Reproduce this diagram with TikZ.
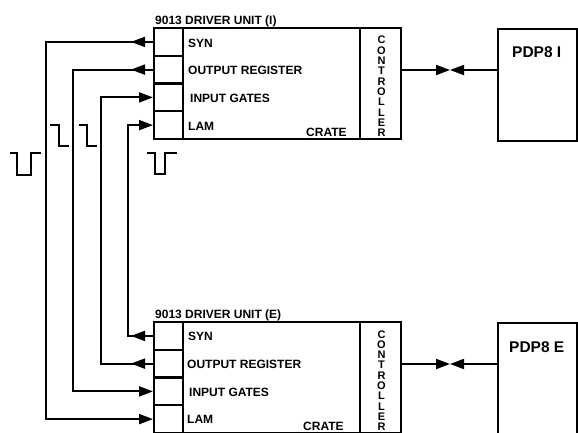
\documentclass[tikz,border=0pt]{standalone}
\usepackage{fontspec}
\setmainfont{Liberation Sans}
\usetikzlibrary{arrows.meta,decorations.markings}
\tikzset{
  ln/.style={line width=2pt, line join=miter},
  box/.style={draw, line width=2pt, inner sep=0pt, rectangle},
  slot/.style={box, minimum width=29pt, minimum height=27.75pt},
  lbl/.style={anchor=base west, inner sep=0pt, font=\bfseries\fontsize{12}{14}\selectfont},
  pdplbl/.style={anchor=base west, inner sep=0pt, font=\bfseries\fontsize{15.5}{18}\selectfont},
  ctrl/.style={inner sep=0pt, align=center, font=\bfseries\fontsize{11}{10.3}\selectfont},
  tip/.style={-{Triangle[length=14pt,width=10pt]}},
  outmark/.style={postaction={decorate, decoration={markings,
     mark=at position 22pt with {\arrow{Triangle[length=14pt,width=10pt]}}}}},
}
\begin{document}
\begin{tikzpicture}[x=1pt,y=-1pt]
\useasboundingbox (0,0) rectangle (578,432);
\clip (0,0) rectangle (578,432);
% ---- crate I ----
\node[box, minimum width=247pt, minimum height=111pt] (crateI) at (277.5,83.5) {};
\node[box, minimum width=41pt, minimum height=111pt] (ctrlI) at (380.5,83.5) {};
\node[slot] (synI) at (168.5,41.9) {};
\node[slot] (orI)  at (168.5,69.6) {};
\node[slot] (igI)  at (168.5,97.4) {};
\node[slot] (lamI) at (168.5,125.1) {};
\node[lbl] (tI) at (155,24.5) {9013 DRIVER UNIT (I)};
\node[lbl] (tsynI) at (188,47.5) {SYN};
\node[lbl] (torI) at (188,74) {OUTPUT REGISTER};
\node[lbl] (tigI) at (190,102.5) {INPUT GATES};
\node[lbl] (tlamI) at (188,130.5) {LAM};
\node[lbl] (tcrI) at (306,136) {CRATE};
\node[ctrl] (cI) at (381.5,86.5) {C\\O\\N\\T\\R\\O\\L\\L\\E\\R};
% ---- crate E ----
\node[box, minimum width=247pt, minimum height=111pt] (crateE) at (277.5,377.5) {};
\node[box, minimum width=41pt, minimum height=111pt] (ctrlE) at (380.5,377.5) {};
\node[slot] (synE) at (168.5,335.9) {};
\node[slot] (orE)  at (168.5,363.6) {};
\node[slot] (igE)  at (168.5,391.4) {};
\node[slot] (lamE) at (168.5,419.1) {};
\node[lbl] (tE) at (155,318) {9013 DRIVER UNIT (E)};
\node[lbl] (tsynE) at (188,340.5) {SYN};
\node[lbl] (torE) at (187,368) {OUTPUT REGISTER};
\node[lbl] (tigE) at (189,396) {INPUT GATES};
\node[lbl] (tlamE) at (187,423.5) {LAM};
\node[lbl] (tcrE) at (303,430) {CRATE};
\node[ctrl] (cE) at (381.5,380.5) {C\\O\\N\\T\\R\\O\\L\\L\\E\\R};
% ---- PDP boxes ----
\node[box, minimum width=79pt, minimum height=112pt] (pdpI) at (537.5,85) {};
\node[pdplbl] (tpI) at (512,57.5) {PDP8 I};
\node[box, minimum width=79pt, minimum height=112pt] (pdpE) at (537.5,379) {};
\node[pdplbl] (tpE) at (509,352) {PDP8 E};
% ---- bowties ----
\coordinate (bowI) at (450,70);
\coordinate (bowE) at (450,364);
\draw[ln, tip] (ctrlI.east |- bowI) -- (bowI);
\draw[ln, tip] (pdpI.west |- bowI) -- (bowI);
\draw[ln, tip] (ctrlE.east |- bowE) -- (bowE);
\draw[ln, tip] (pdpE.west |- bowE) -- (bowE);
% ---- bus lines ----
\coordinate (vA) at (45.5,0);
\coordinate (vB) at (73.3,0);
\coordinate (vC) at (100.7,0);
\coordinate (vD) at (127.7,0);
\draw[ln, tip, outmark] (synI.west) -- (synI.west -| vA) -- (lamE.west -| vA) -- (lamE.west);
\draw[ln, tip, outmark] (orI.west) -- (orI.west -| vB) -- (igE.west -| vB) -- (igE.west);
\draw[ln, tip, outmark] (orE.west) -- (orE.west -| vC) -- (igI.west -| vC) -- (igI.west);
\draw[ln, tip, outmark] (synE.west) -- (synE.west -| vD) -- (lamI.west -| vD) -- (lamI.west);
% ---- pulses ----
\draw[ln] (10,153) -- (17,153) -- (17,175) -- (31,175) -- (31,153) -- (41,153);
\draw[ln] (50,125) -- (59,125) -- (59,146) -- (69,146);
\draw[ln] (79,125) -- (87,125) -- (87,146) -- (97,146);
\draw[ln] (147,153) -- (155,153) -- (155,174) -- (165,174) -- (165,153) -- (177,153);
\end{tikzpicture}
\end{document}
